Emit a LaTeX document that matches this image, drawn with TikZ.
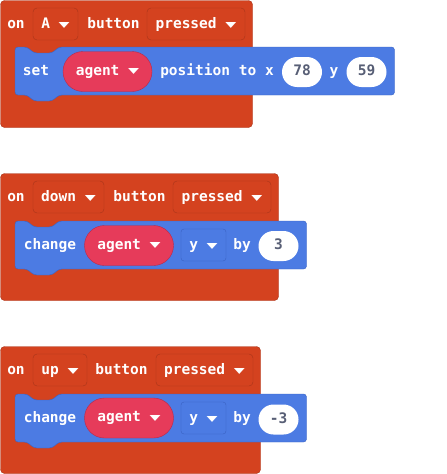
\documentclass[tikz,border=0pt]{standalone}
\usepackage{fontspec}
\usepackage{graphicx}
\setmonofont{DejaVu Sans Mono}
\newfontfamily\arrowfont{DejaVu Sans}
\definecolor{evtorange}{HTML}{D4421F}
\definecolor{evtedge}{HTML}{A8341A}
\definecolor{stmtblue}{HTML}{4C7BE3}
\definecolor{stmtedge}{HTML}{3A62C2}
\definecolor{agentpink}{HTML}{E63B5A}
\definecolor{agentedge}{HTML}{B8294A}
\definecolor{numgray}{HTML}{575E75}
\newcommand{\dd}{\raisebox{1.5pt}{\scalebox{1.1}[0.6]{\arrowfont\fontsize{13}{13}\selectfont ▼}}}
% blue statement block with its notch on top and tab below
\newcommand{\stmtshape}[4]{%
  \draw[stmtblock] (#1,#2) -- (#1+12,#2) -- (#1+19,#2+6) -- (#1+37,#2+6) -- (#1+44,#2)
    -- (#3,#2) -- (#3,#4) -- (#1+44,#4) -- (#1+37,#4+6) -- (#1+19,#4+6) -- (#1+12,#4)
    -- (#1,#4) -- cycle;}

\begin{document}
\begin{tikzpicture}[x=1pt,y=-1pt,
    evtblock/.style={draw=evtedge, fill=evtorange, rounded corners=4},
    stmtblock/.style={draw=stmtedge, fill=stmtblue, rounded corners=3},
    word/.style={text=white, font=\ttfamily\bfseries\fontsize{14.5}{16}\selectfont,
      inner sep=0pt, text height=10, text depth=3},
    dropbox/.style={word, text depth=1, draw=evtedge, fill=evtorange, rounded corners=4,
      minimum height=32},
    varbox/.style={word, text depth=1, draw=stmtedge, fill=stmtblue, rounded corners=3,
      minimum height=32},
    agentpill/.style={word, draw=agentedge, fill=agentpink, rounded corners=20,
      minimum width=89, minimum height=40},
    numoval/.style={word, text=numgray, fill=white, rounded corners=15,
      minimum width=40, minimum height=30}]
  \useasboundingbox (0,0) rectangle (447,474);

  % on A button pressed
  \draw[evtblock] (0.5,0.5) rectangle (252.5,127.5);
  \node[word] (on1) at (16,25) {on};
  \node[dropbox, minimum width=45] (key1) at (55.5,24) {A \dd};
  \node[word] (btn1) at (113.5,25) {button};
  \node[dropbox, minimum width=98] (press1) at (196,24) {pressed \dd};
  \stmtshape{15}{47}{394.5}{95}
  \node[word] (set1) at (36,72) {set};
  \node[agentpill] (agent1) at (107.5,71.5) {agent \dd};
  \node[word] (pos1) at (217,72) {position to x};
  \node[numoval] (xval1) at (302,72) {78};
  \node[word] (ylbl1) at (334,72) {y};
  \node[numoval] (yval1) at (366.5,72) {59};

  % on down button pressed
  \draw[evtblock] (0.5,173.5) rectangle (278.5,300.5);
  \node[word] (on2) at (16,198) {on};
  \node[dropbox, minimum width=71] (key2) at (68.5,197) {down \dd};
  \node[word] (btn2) at (139.5,198) {button};
  \node[dropbox, minimum width=98] (press2) at (222,197) {pressed \dd};
  \stmtshape{15}{221}{306.5}{269}
  \node[word] (chg2) at (50,246) {change};
  \node[agentpill] (agent2) at (129,245.5) {agent \dd};
  \node[varbox, minimum width=45] (axis2) at (203.5,245) {y \dd};
  \node[word] (by2) at (242,246) {by};
  \node[numoval] (num2) at (278.5,246) {3};

  % on up button pressed
  \draw[evtblock] (0.5,346.5) rectangle (260.5,473.5);
  \node[word] (on3) at (16,371) {on};
  \node[dropbox, minimum width=54] (key3) at (60,370) {up \dd};
  \node[word] (btn3) at (121.5,371) {button};
  \node[dropbox, minimum width=97] (press3) at (204.5,370) {pressed \dd};
  \stmtshape{15}{394}{306.5}{442}
  \node[word] (chg3) at (50,419) {change};
  \node[agentpill] (agent3) at (129,418) {agent \dd};
  \node[varbox, minimum width=45] (axis3) at (203.5,418) {y \dd};
  \node[word] (by3) at (242,419) {by};
  \node[numoval] (num3) at (278.5,419.5) {-3};
\end{tikzpicture}
\end{document}
